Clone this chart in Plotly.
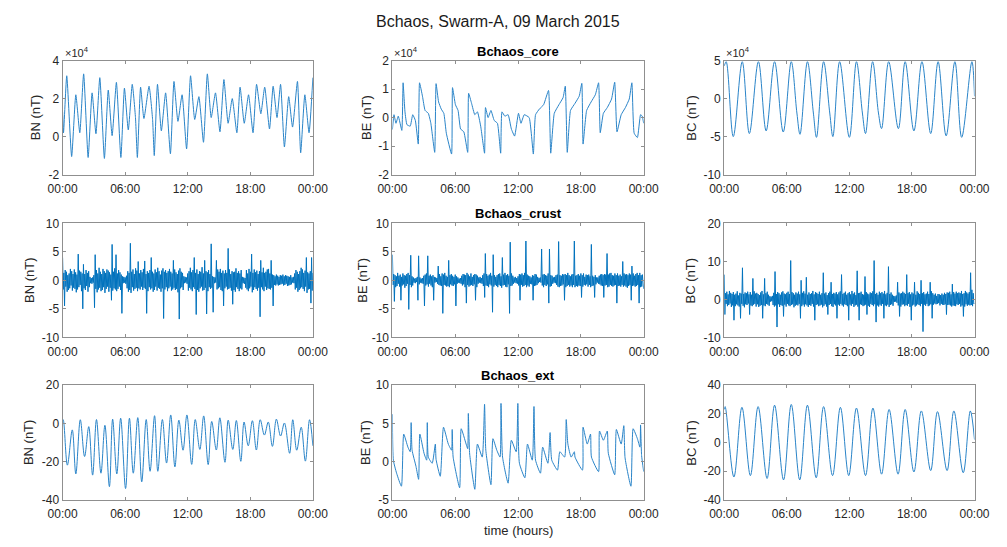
import numpy as np
import pandas as pd
import plotly.graph_objects as go

DAY0 = pd.Timestamp("2015-03-09 00:00")
DAY1 = pd.Timestamp("2015-03-10 00:00")

# ---------------- Bchaos_core (nT), (hour, value) ----------------
BN_CORE = [(0.00, 13000), (0.09, 2000), (0.40, 32000), (0.87, -10500), (1.27, 22000), (1.65, 2000),
           (2.02, 33000), (2.45, -11000), (2.83, 23000), (3.20, 1500), (3.57, 31000), (4.01, -11500),
           (4.38, 24500), (4.75, 500), (5.16, 28500), (5.59, -11000), (5.93, 25500), (6.30, 3500),
           (6.68, 27500), (6.99, 10000), (7.17, -11000), (7.48, 26000), (7.80, 9500), (8.29, 26500),
           (8.63, 9000), (8.79, -10000), (9.10, 27500), (9.47, 3000), (9.88, 23000), (10.34, -9000),
           (10.68, 29000), (11.06, 8000), (11.46, 22000), (11.89, -6500), (12.27, 32000), (12.67, 9000),
           (13.07, 21000), (13.51, -3000), (13.88, 33000), (14.25, 10000), (14.66, 23000), (15.09, 2500),
           (15.47, 30000), (15.87, 7000), (16.27, 20000), (16.71, 2000), (17.02, 26000), (17.42, 7000),
           (17.83, 22000), (18.26, 2000), (18.60, 27500), (19.01, 12000), (19.38, 26000), (19.84, 4000),
           (20.19, 26500), (20.56, 10000), (20.90, 27500), (21.27, -5500), (21.68, 21000), (22.05, 5000),
           (22.52, 29000), (22.83, -8500), (23.23, 22000), (23.63, 2000), (24.00, 31000)]

BE_CORE = [(0.00, -4200), (0.15, 1000), (0.34, -2000), (0.56, 500), (0.90, -4500), (1.02, 12200),
           (1.20, 2000), (1.39, -2500), (1.70, -3000), (1.94, 1000), (2.19, -1000), (2.47, -9300),
           (2.59, 12200), (2.87, 7500), (3.12, 2500), (3.43, 1500), (3.67, -2000), (4.04, -12200),
           (4.17, 11900), (4.41, 5500), (4.66, 3000), (4.91, 1500), (5.15, -5500), (5.65, -12800),
           (5.74, 10500), (6.02, 4500), (6.27, 2500), (6.51, -4000), (6.82, -5000), (7.19, -12200),
           (7.28, 8500), (7.56, 5000), (7.87, 1000), (8.12, 2000), (8.43, -3000), (8.80, -12500),
           (8.89, 3500), (9.14, 0), (9.41, 2500), (9.72, -1000), (10.03, -2000), (10.34, -12500),
           (10.46, 2000), (10.74, 500), (11.05, 1000), (11.36, -4000), (11.67, -6500), (12.04, 1500),
           (12.28, -2000), (12.59, 1000), (13.06, 0), (13.46, -12800), (13.67, 1000), (14.04, 3000),
           (14.44, 4500), (14.91, 9500), (15.12, -12500), (15.46, 1500), (15.90, 4500), (16.30, 7000),
           (16.51, 11000), (16.70, -12200), (17.01, 2500), (17.44, 5000), (17.84, 7500), (18.09, 12000),
           (18.21, -9300), (18.55, 2500), (18.98, 5500), (19.38, 8000), (19.69, 12200), (19.85, -5300),
           (20.15, 1500), (20.52, 3500), (20.93, 6500), (21.23, 12400), (21.45, -5000), (21.85, 1000),
           (22.25, 3500), (22.62, 6500), (22.87, 12200), (23.09, -5500), (23.40, -7000), (23.70, 1000),
           (23.86, 500), (24.00, -2000)]

BC_CORE = [(0.00, 43000), (0.19, 48500), (0.87, -50000), (1.73, 48500), (2.41, -46000), (3.28, 48500),
           (4.02, -42500), (4.83, 48500), (5.66, -44000), (6.43, 48500), (6.97, -19000), (7.27, -47000),
           (7.98, 48500), (8.55, -19000), (8.85, -51000), (9.53, 48500), (10.12, -19000), (10.42, -50000),
           (11.07, 48500), (12.00, -51000), (12.68, 48500), (13.25, -19000), (13.55, -46000), (14.23, 48500),
           (14.79, -19000), (15.09, -39500), (15.77, 48500), (16.70, -39500), (17.35, 48500), (18.19, -42500),
           (18.96, 48500), (19.80, -46000), (20.51, 48500), (21.28, -49000), (22.12, 48500), (22.77, -51000),
           (23.75, 48500), (24.00, 3000)]

# ---------------- Bchaos_crust (nT), 3.75-minute samples ----------------
BN_CRUST = [
    4.0, -1.6, 1.3, -4.5, 1.8, -1.1, 1.5, -2.0, 0.9, -1.7, 1.2, -1.4, 2.0, -0.9, 1.6, -1.8, 1.1, -1.3, 1.9, -1.5,
    1.4, -2.1, 1.0, -1.6, 4.6, -1.2, 1.7, -0.8, 1.5, -1.9, 1.2, -5.0, 2.8, -1.4, 1.1, -1.7, 1.8, -1.0, 1.3, -2.0,
    1.6, -1.2, 0.6, -0.5, 0.4, -0.6, 0.5, -0.4, 0.9, -4.8, 4.5, -1.5, 1.8, -2.1, 1.2, -1.6, 2.2, -1.3, 1.5, -1.9,
    1.1, -1.7, 2.0, -1.2, 1.6, -2.2, 1.3, -1.5, 1.9, -1.1, 1.7, -2.0, 1.4, -1.3, 1.0, -3.5, 6.3, -1.8, 1.5, -1.4,
    2.1, -1.6, 4.5, -1.9, 1.2, -1.5, 1.8, -1.1, 1.4, -1.7, 1.0, -5.8, 0.7, -0.5, 0.6, -0.4, 0.5, -0.6, 0.8, -1.4,
    1.6, -2.0, 1.3, -1.7, 6.5, -2.2, 1.5, -1.2, 1.9, -1.8, 1.1, -1.5, 2.1, -1.3, 1.7, -1.9, 3.3, -1.4, 1.2, -1.6,
    1.8, -1.1, 1.4, -1.7, 2.0, -1.3, 3.4, -1.5, 1.1, -5.8, 1.6, -1.9, 1.3, -1.2, 1.8, -1.6, 4.0, -1.4, 1.5, -2.0,
    1.2, -1.7, 1.9, -1.1, 1.4, -1.8, 2.2, -1.3, 1.6, -1.5, 1.0, -2.0, 1.7, -1.4, 2.1, -6.7, 1.5, -1.6, 1.8, -1.2,
    1.3, -1.9, 1.6, -1.4, 2.0, -1.1, 1.5, -1.8, 1.2, -1.6, 3.5, -1.3, 1.9, -1.7, 1.4, -1.5, 1.1, -2.1, 1.7, -6.8,
    2.1, -1.4, 1.5, -1.2, 1.3, -1.7, 0.7, -0.5, 0.6, -0.4, 0.5, -0.6, 1.2, -1.8, 1.6, -1.3, 2.2, -1.6, 1.4, -1.9,
    1.8, -1.2, 4.0, -1.5, 1.3, -6.0, 1.9, -1.7, 1.1, -2.0, 1.6, -1.4, 1.5, -1.1, 2.3, -1.8, 1.2, -1.7, 3.5, -1.3,
    1.6, -5.9, 1.4, -1.9, 1.8, -1.2, 1.1, -1.5, 6.4, -1.3, 0.7, -5.6, 0.6, -0.5, 0.5, -0.4, 3.5, -1.6, 1.9, -1.4,
    1.5, -1.2, 2.0, -1.7, 1.3, -1.9, 1.7, -4.5, 1.2, -1.4, 1.8, -1.1, 1.3, -1.6, 5.6, -1.5, 1.9, -1.3, 1.1, -1.8,
    1.6, -4.2, 1.4, -1.7, 1.5, -2.0, 2.1, -1.2, 1.3, -1.5, 1.6, -1.9, 1.2, -1.4, 1.8, -1.6, 0.6, -0.5, 0.5, -0.6,
    0.4, -1.3, 1.8, -1.6, 1.2, -1.9, 2.0, -1.4, 1.5, -1.1, 4.6, -2.1, 1.3, -1.7, 1.9, -1.2, 1.4, -1.5, 1.7, -1.8,
    1.1, -1.3, 1.6, -6.4, 3.5, -1.2, 1.4, -1.6, 2.2, -1.9, 1.3, -1.1, 1.5, -1.7, 1.9, -1.4, 2.0, -1.5, 1.2, -1.6,
    3.5, -1.3, 1.0, -4.5, 0.9, -0.8, 0.7, -0.9, 1.0, -0.7, 0.8, -0.9, 0.6, -0.8, 0.9, -0.7, 0.8, -0.6, 1.0, -0.9,
    0.7, -0.8, 0.9, -0.6, 0.8, -1.0, 0.7, -0.9, 0.6, -0.8, 0.9, -0.7, 0.5, -0.4, 0.6, -0.5, 1.2, -1.6, 1.8, -1.3,
    1.5, -2.0, 1.1, -1.7, 1.6, -1.4, 2.2, -1.2, 1.9, -1.5, 1.3, -1.9, 1.7, -1.1, 4.0, -2.2, 1.4, -1.6, 1.2, -1.5,
    1.6, -4.0, 4.0, -1.8, 1.3]

BE_CRUST = [
    4.5, -0.8, 1.1, -3.7, 0.9, -1.2, 0.7, -1.0, 1.3, -0.6, 0.8, -1.1, 1.0, -3.5, 0.6, -0.9, 1.2, -0.7, 0.9, -1.3,
    0.8, -1.0, 1.1, -0.6, 1.3, -5.1, 0.9, -0.8, 4.4, -1.2, 0.7, -0.9, 0.5, -0.4, 0.3, -0.5, 0.4, -0.3, 0.6, -3.5,
    4.3, -0.7, 0.5, -0.4, 0.3, -0.5, 0.4, -0.6, 0.8, -4.5, 1.0, -0.9, 1.2, -0.7, 4.3, -1.1, 0.8, -0.6, 1.0, -0.9,
    0.7, -1.2, 0.9, -3.5, 0.6, -0.4, 0.5, -0.3, 0.4, -0.6, 2.5, -0.8, 1.1, -0.9, 0.7, -1.0, 1.2, -5.8, 1.0, -0.8,
    1.3, -0.9, 0.8, -1.1, 0.6, -1.0, 3.5, -1.2, 0.9, -0.7, 1.1, -0.9, 0.8, -1.0, 0.6, -0.7, 1.0, -4.5, 0.7, -0.6,
    0.5, -0.4, 0.3, -0.5, 0.4, -0.6, 0.8, -0.9, 1.1, -0.7, 1.0, -1.2, 0.9, -4.0, 1.3, -0.8, 1.0, -1.1, 0.7, -0.9,
    1.2, -0.8, 0.6, -1.0, 0.9, -0.7, 1.1, -3.5, 1.0, -1.2, 0.8, -0.6, 0.5, -0.4, 0.6, -0.5, 0.4, -0.6, 0.9, -1.0,
    1.2, -3.0, 4.7, -0.9, 1.1, -1.0, 0.8, -1.2, 1.0, -0.7, 1.3, -0.9, 0.8, -5.6, 4.5, -1.1, 0.9, -0.8, 0.6, -1.0,
    0.9, -1.2, 1.1, -0.8, 1.2, -1.0, 0.7, -1.3, 4.0, -0.9, 1.0, -0.8, 1.3, -1.1, 0.9, -1.2, 1.1, -0.7, 0.8, -5.8,
    6.7, -1.0, 1.2, -0.9, 0.8, -0.6, 0.5, -0.4, 0.6, -0.5, 0.4, -0.6, 0.7, -0.9, 1.1, -3.5, 1.0, -0.8, 1.2, -1.1,
    0.9, -1.0, 1.3, -0.8, 6.9, -1.2, 1.0, -0.9, 0.8, -1.1, 0.7, -0.6, 0.5, -0.7, 0.9, -3.5, 0.8, -1.0, 1.1, -0.9,
    1.0, -0.8, 0.6, -0.5, 0.4, -0.3, 0.5, -0.4, 5.5, -0.9, 1.0, -1.2, 1.1, -0.8, 0.9, -1.0, 0.8, -0.7, 1.2, -4.0,
    5.5, -1.1, 0.9, -1.0, 0.8, -0.6, 0.5, -0.4, 0.6, -0.5, 0.9, -0.8, 1.0, -1.1, 6.8, -1.2, 0.9, -1.0, 0.8, -0.9,
    1.1, -0.7, 1.0, -3.5, 1.1, -1.2, 0.9, -1.0, 1.3, -0.8, 0.9, -1.1, 0.7, -0.9, 1.0, -1.2, 1.1, -0.8, 6.9, -1.2,
    0.8, -1.0, 0.9, -1.1, 1.1, -0.9, 0.8, -1.0, 1.2, -3.0, 0.9, -1.1, 1.2, -0.8, 0.6, -0.9, 1.0, -0.7, 0.9, -1.1,
    1.0, -0.8, 0.7, -1.2, 6.3, -1.0, 0.8, -0.9, 0.6, -3.0, 0.9, -0.7, 0.5, -0.4, 0.5, -0.6, 0.8, -0.7, 1.0, -0.9,
    1.1, -1.0, 0.9, -3.0, 1.1, -0.9, 1.0, -0.8, 4.7, -1.2, 1.0, -1.1, 1.2, -0.8, 1.3, -1.0, 0.9, -1.1, 0.8, -0.9,
    1.2, -0.8, 0.9, -4.0, 1.2, -1.0, 0.8, -0.9, 1.0, -1.1, 0.7, -0.8, 3.3, -1.1, 1.2, -0.9, 1.0, -1.1, 1.1, -1.3,
    0.9, -1.0, 1.2, -0.8, 1.0, -3.5, 2.5, -1.0, 1.2, -0.9, 0.8, -1.1, 1.1, -1.0, 1.3, -0.8, 0.9, -4.0, 1.3, -1.2,
    0.9, -1.1, 1.0, -0.8, -1.5]

BC_CRUST = [
    6.5, -4.0, 1.6, -1.2, 2.0, -1.8, 1.3, -1.5, 2.2, -1.1, 1.7, -2.0, 1.4, -1.6, 1.9, -5.5, 1.2, -1.8, 1.5, -1.3,
    2.1, -1.6, 1.0, -1.9, 1.7, -5.0, 1.5, -1.2, 8.3, -1.7, 1.4, -2.1, 1.8, -1.3, 1.6, -1.5, 2.0, -1.1, 1.3, -4.0,
    1.9, -1.6, 1.2, -1.8, 5.5, -1.4, 2.1, -1.2, 1.5, -1.9, 1.7, -1.3, 1.4, -2.0, 1.1, -1.7, 1.8, -1.5, 2.2, -5.0,
    1.3, -1.6, 5.5, -1.8, 1.6, -1.2, 2.0, -1.4, 1.2, -1.7, 0.8, -0.6, 0.7, -0.5, 0.9, -1.5, 1.7, -1.9, 7.3, -1.6,
    1.4, -7.3, 1.9, -1.3, 1.6, -2.0, 1.2, -1.5, 1.8, -1.7, 2.1, -4.5, 1.5, -1.4, 1.3, -1.9, 1.7, -1.2, 2.0, -1.6,
    1.4, -1.8, 10.2, -1.5, 1.9, -1.3, 1.6, -2.1, 1.2, -1.7, 1.8, -1.4, 1.5, -1.6, 2.0, -1.2, 1.3, -5.0, 5.0, -1.8,
    1.7, -1.4, 2.1, -1.9, 1.5, -1.3, 5.8, -1.6, 1.2, -2.0, 1.8, -1.5, 1.4, -1.7, 1.6, -1.2, 2.2, -1.9, 1.3, -5.5,
    1.9, -1.5, 1.7, -1.3, 1.4, -1.8, 2.0, -1.6, 1.2, -1.4, 1.6, -2.1, 7.0, -1.7, 1.5, -1.3, 1.8, -1.9, 1.1, -4.0,
    1.6, -1.5, 2.0, -1.2, 4.5, -1.8, 1.4, -2.0, 1.7, -1.3, 1.5, -1.6, 1.9, -5.0, 1.3, -1.4, 1.8, -1.7, 2.1, -1.2,
    6.5, -1.6, 1.4, -1.9, 1.7, -1.3, 2.0, -1.5, 1.2, -1.8, 1.6, -5.5, 1.9, -1.4, 1.3, -1.7, 2.2, -1.2, 1.5, -2.0,
    1.8, -1.6, 1.1, -1.4, 7.5, -1.9, 1.6, -5.5, 1.7, -1.3, 2.0, -1.5, 1.4, -1.8, 1.2, -1.6, 6.0, -1.4, 1.9, -4.0,
    1.5, -1.7, 1.3, -2.0, 1.8, -1.2, 1.6, -1.5, 2.1, -1.8, 10.2, -1.3, 1.4, -6.0, 1.7, -1.6, 1.2, -1.9, 2.0, -1.4,
    1.6, -1.7, 1.9, -1.2, 1.5, -5.0, 2.2, -1.6, 1.3, -1.8, 1.7, -1.4, 8.6, -2.0, 1.4, -1.5, 1.8, -1.3, 1.2, -1.7,
    0.9, -0.7, 0.8, -0.6, 1.0, -0.9, 4.5, -1.6, 1.8, -4.5, 1.5, -1.9, 1.6, -1.4, 2.0, -1.3, 1.7, -1.8, 1.4, -1.5,
    6.5, -1.7, 1.6, -1.2, 1.9, -2.0, 1.3, -5.5, 1.8, -1.6, 1.5, -1.4, 4.5, -1.9, 1.2, -1.6, 2.1, -1.3, 1.7, -1.5,
    1.4, -1.8, 5.0, -1.2, 1.6, -8.5, 1.9, -1.4, 1.3, -1.7, 1.5, -1.2, 2.0, -1.8, 1.4, -1.6, 4.5, -1.3, 2.1, -5.0,
    1.6, -1.4, 1.2, -1.1, 1.5, -1.3, 0.9, -1.2, 1.4, -1.0, 1.3, -1.6, 1.1, -1.2, 1.5, -1.4, 1.2, -1.5, 1.7, -1.3,
    1.4, -4.0, 1.8, -1.5, 1.7, -1.4, 2.0, -1.6, 1.3, -1.9, 4.0, -1.6, 1.9, -1.7, 1.5, -1.8, 2.0, -1.3, 1.6, -1.5,
    1.8, -1.2, 1.6, -1.9, 2.2, -1.6, 1.4, -4.5, 1.6, -1.9, 2.2, -1.3, 1.8, -1.7, 1.5, -1.4, 1.9, -1.6, 7.0, -1.5,
    2.5, -1.8, 1.6, -1.2, -1.0]

# ---------------- Bchaos_ext (nT), (hour, value) ----------------
BN_EXT = [(0.00, 1.5), (0.06, 1.9), (0.46, -21.8), (0.93, -3.4), (1.27, -26.4), (1.70, 1.9), (2.11, -17.3),
          (2.51, -1.7), (2.88, -27.0), (3.25, 2.0), (3.68, -26.0), (4.06, -1.0), (4.49, -33.0), (4.80, 2.2),
          (5.20, -26.4), (5.57, 2.7), (6.04, -34.0), (6.41, 2.7), (6.78, -26.0), (7.21, 3.0), (7.59, -30.5),
          (8.02, 2.0), (8.39, -25.0), (8.82, 4.0), (9.13, -25.0), (9.57, 2.0), (9.97, -20.7), (10.37, 4.4),
          (10.77, -22.7), (11.15, 1.7), (11.55, -14.0), (11.92, 4.4), (12.38, -21.4), (12.72, 2.0),
          (13.16, -13.6), (13.53, 3.9), (13.96, -21.5), (14.30, 1.0), (14.74, -13.9), (15.08, 2.9),
          (15.57, -20.3), (15.88, 1.7), (16.32, -13.6), (16.66, 1.5), (17.09, -19.8), (17.40, 0.7),
          (17.80, -11.7), (18.20, 1.4), (18.58, -13.9), (18.95, 1.9), (19.35, -6.1), (19.72, 0.7),
          (20.12, -12.0), (20.50, 2.2), (20.90, -6.6), (21.27, 0.2), (21.77, -15.6), (22.07, 1.9),
          (22.45, -14.0), (22.88, -2.0), (23.28, -19.7), (23.68, 1.9), (24.00, -11.7)]

BE_EXT = [(0.00, 6.2), (0.09, 0.2), (0.40, -1.5), (0.86, -3.2), (1.08, 3.6), (1.48, 1.9), (1.70, 1.3),
          (1.79, 5.1), (1.88, 1.5), (2.25, -0.6), (2.50, -2.3), (2.62, 3.6), (3.02, 1.1), (3.27, 0.2),
          (3.33, 5.1), (3.43, 0.6), (3.80, -0.2), (4.10, 2.3), (4.17, 0.3), (4.57, -1.9), (4.88, 4.5),
          (5.34, 2.3), (5.65, 1.5), (5.71, 4.2), (5.80, 0.6), (6.42, -3.4), (6.57, 4.3), (7.04, 2.3),
          (7.19, 1.7), (7.25, 6.3), (7.38, 1.0), (7.87, -3.6), (8.12, 2.3), (8.58, 0.6), (8.80, 7.5),
          (8.92, 1.5), (9.41, -3.0), (9.60, 3.0), (9.97, 1.5), (10.28, 0.6), (10.37, 7.6), (10.52, 0.6),
          (11.05, -2.8), (11.36, 2.8), (11.82, 1.3), (11.98, 7.6), (12.13, -0.2), (12.65, -2.1),
          (12.90, 2.3), (13.36, 0.2), (13.52, 7.2), (13.67, 0.2), (14.14, -1.5), (14.35, 1.9),
          (14.85, -0.2), (15.06, 3.8), (15.22, 0.2), (15.77, -1.1), (15.99, 1.3), (16.45, 0.6),
          (16.60, 5.5), (16.76, 2.3), (17.07, 0.6), (17.38, 1.3), (17.44, 0.6), (18.15, -1.1),
          (18.21, 4.5), (18.61, 2.3), (18.92, 3.6), (19.01, 0.6), (19.69, -1.3), (19.78, 4.0),
          (20.15, 2.8), (20.52, 4.0), (20.62, 1.1), (21.23, -1.7), (21.39, 4.2), (21.85, 2.3),
          (22.10, 4.7), (22.22, 0.5), (22.78, -3.2), (22.99, 4.3), (23.40, 3.0), (23.64, 1.9),
          (23.70, 4.8), (23.80, 0.8), (24.00, -1.3)]

BC_EXT = [(0.00, 23), (0.09, 25), (0.93, -24), (1.70, 24.5), (2.51, -23), (3.25, 25), (4.11, -25),
          (4.83, 26), (5.69, -26), (6.43, 26.5), (7.24, -26), (7.98, 26), (8.82, -24.5), (9.53, 25),
          (10.39, -23), (11.14, 24.5), (11.94, -23), (12.68, 24), (13.55, -23), (14.26, 24), (15.09, -22),
          (15.81, 23), (16.67, -22), (17.35, 23), (18.19, -20.5), (18.90, 22), (19.80, -19.5),
          (20.45, 21.5), (21.37, -19.5), (22.02, 22), (22.92, -21), (23.60, 22), (24.00, 2)]

ROW_TITLES = ["Bchaos_core", "Bchaos_crust", "Bchaos_ext"]
COMP_LABELS = ["BN (nT)", "BE (nT)", "BC (nT)"]
TIME_TICKS = ["00:00", "06:00", "12:00", "18:00", "00:00"]

# axis frames in figure fractions
XDOM = [(0.0487, 0.3049), (0.3863, 0.6435), (0.7259, 0.9821)]
YDOM = [(0.6856, 0.8995), (0.3803, 0.5941), (0.0750, 0.2907)]

FONT = "Liberation Sans, Arial, Helvetica, sans-serif"
TXT = "#262626"
FRAME = "#8f8f8f"
BLUE = "#0072BD"


def pairs_to_xy(pairs):
    hrs = [p[0] for p in pairs]
    vals = [p[1] for p in pairs]
    return [DAY0 + pd.Timedelta(hours=h) for h in hrs], vals


def series_to_xy(vals):
    hrs = np.linspace(0.0, 24.0, len(vals))
    return [DAY0 + pd.Timedelta(hours=float(h)) for h in hrs], vals


def plain(vals):
    # tick text with an ASCII hyphen for negatives
    return [str(v) for v in vals]


# per panel: data, y range, tick values, tick text, exponent flag, (shape, smoothing), y-label offset(px)
panels = [
    [(pairs_to_xy(BN_CORE), (-20000, 40000), [-20000, 0, 20000, 40000], plain([-2, 0, 2, 4]), True, ("spline", 0.5), 27),
     (pairs_to_xy(BE_CORE), (-20000, 20000), [-20000, -10000, 0, 10000, 20000], plain([-2, -1, 0, 1, 2]), True, ("spline", 0.4), 26),
     (pairs_to_xy(BC_CORE), (-100000, 50000), [-100000, -50000, 0, 50000], plain([-10, -5, 0, 5]), True, ("spline", 1.0), 33)],
    [(series_to_xy(BN_CRUST), (-10, 10), [-10, -5, 0, 5, 10], plain([-10, -5, 0, 5, 10]), False, ("linear", 0), 33),
     (series_to_xy(BE_CRUST), (-10, 10), [-10, -5, 0, 5, 10], plain([-10, -5, 0, 5, 10]), False, ("linear", 0), 30),
     (series_to_xy(BC_CRUST), (-10, 20), [-10, 0, 10, 20], plain([-10, 0, 10, 20]), False, ("linear", 0), 34)],
    [(pairs_to_xy(BN_EXT), (-40, 20), [-40, -20, 0, 20], plain([-40, -20, 0, 20]), False, ("spline", 1.0), 34),
     (pairs_to_xy(BE_EXT), (-5, 10), [-5, 0, 5, 10], plain([-5, 0, 5, 10]), False, ("spline", 0.5), 27),
     (pairs_to_xy(BC_EXT), (-40, 40), [-40, -20, 0, 20, 40], plain([-40, -20, 0, 20, 40]), False, ("spline", 1.0), 33)],
]

fig = go.Figure()
layout = {}
annotations = []
tickvals_x = [DAY0 + pd.Timedelta(hours=h) for h in (0, 6, 12, 18, 24)]

k = 0
for r in range(3):
    for c in range(3):
        k += 1
        (xs, ys), yr, tv, tt, has_exp, (shape, smooth), ylab_off = panels[r][c]
        xname = "xaxis" if k == 1 else f"xaxis{k}"
        yname = "yaxis" if k == 1 else f"yaxis{k}"
        xref = "x" if k == 1 else f"x{k}"
        yref = "y" if k == 1 else f"y{k}"
        crust = (r == 1)
        line = dict(color=BLUE if crust else "#2a84c8", width=1.0, shape=shape)
        if shape == "spline":
            line["smoothing"] = smooth
        fig.add_trace(go.Scatter(
            x=xs, y=ys, mode="lines", xaxis=xref, yaxis=yref, line=line,
            hoverinfo="skip", showlegend=False))
        layout[xname] = dict(
            domain=list(XDOM[c]), anchor=yref, type="date",
            range=[DAY0, DAY1], tickvals=tickvals_x, ticktext=TIME_TICKS,
            ticks="inside", ticklen=3, tickcolor=FRAME, showline=True, linecolor=FRAME,
            linewidth=1, mirror="ticks", showgrid=False, zeroline=False,
            ticklabelstandoff=3,
            tickfont=dict(family=FONT, size=12, color=TXT))
        layout[yname] = dict(
            domain=list(YDOM[r]), anchor=xref, range=list(yr), tickvals=tv, ticktext=tt,
            ticks="inside", ticklen=3, tickcolor=FRAME, showline=True, linecolor=FRAME,
            linewidth=1, mirror="ticks", showgrid=False, zeroline=False,
            tickfont=dict(family=FONT, size=12, color=TXT))

        x0, x1 = XDOM[c]
        y0, y1 = YDOM[r]
        annotations.append(dict(
            text=COMP_LABELS[c], x=x0, y=(y0 + y1) / 2, xref="paper", yref="paper",
            xanchor="center", yanchor="middle", xshift=-ylab_off, textangle=-90,
            showarrow=False, font=dict(family=FONT, size=13, color=TXT)))
        if has_exp:
            annotations.append(dict(
                text="×10<sup>4</sup>", x=x0, y=y1, xref="paper", yref="paper",
                xanchor="left", yanchor="bottom", xshift=0, yshift=0,
                showarrow=False, font=dict(family=FONT, size=11, color=TXT)))
        if c == 1:
            annotations.append(dict(
                text="<b>" + ROW_TITLES[r] + "</b>", x=(x0 + x1) / 2, y=y1,
                xref="paper", yref="paper", xanchor="center", yanchor="bottom", yshift=0,
                showarrow=False, font=dict(family=FONT, size=13, color="#000000")))

annotations.append(dict(
    text="Bchaos, Swarm-A, 09 March 2015", x=0.4945, y=1 - 15 / 547,
    xref="paper", yref="paper", xanchor="center", yanchor="middle",
    showarrow=False, font=dict(family=FONT, size=16, color="#1a1a1a")))
annotations.append(dict(
    text="time (hours)", x=(XDOM[1][0] + XDOM[1][1]) / 2, y=1 - 537 / 547,
    xref="paper", yref="paper", xanchor="center", yanchor="middle",
    showarrow=False, font=dict(family=FONT, size=13, color=TXT)))

fig.update_layout(
    width=1007, height=547, autosize=False,
    margin=dict(l=0, r=0, t=0, b=0),
    paper_bgcolor="white", plot_bgcolor="white",
    annotations=annotations, **layout)

fig.write_html("out.html", config={"displayModeBar": False})
